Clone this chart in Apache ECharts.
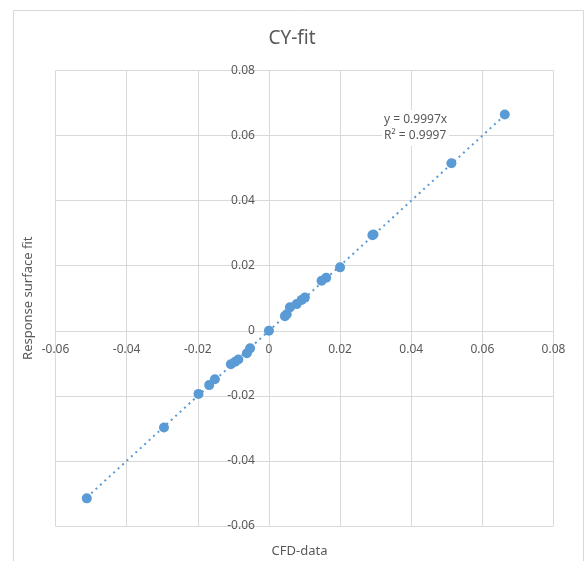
<!DOCTYPE html>
<html>
<head>
<meta charset="utf-8">
<script src="https://cdn.jsdelivr.net/npm/echarts@6/dist/echarts.min.js"></script>
<style>
  html, body { margin: 0; padding: 0; background: #fff; }
  #main { width: 584px; height: 561px; }
</style>
</head>
<body>
<div id="main"></div>
<script>
// CFD values (x) and response surface fit values (y)
var cfdData = [0.0663, 0.0513, 0.0291, 0.0294, 0.0200, 0.0161, 0.0148, 0.0101, 0.0092, 0.0078,
  0.0059, 0.0050, 0.0045, 0.0000, -0.0053, -0.0062, -0.0086, -0.0095, -0.0107, -0.0152,
  -0.0168, -0.0198, -0.0295, -0.0512];
var fitData = [0.0665, 0.0515, 0.0294, 0.0296, 0.0195, 0.0163, 0.0154, 0.0102, 0.0095, 0.0082,
  0.0072, 0.0051, 0.0045, 0.0000, -0.0054, -0.0069, -0.0088, -0.0095, -0.0103, -0.0149,
  -0.0167, -0.0194, -0.0297, -0.0515];
// trendline through origin
var slope = 0.9997;
var r2 = 0.9997;

var points = cfdData.map(function (x, i) { return [x, fitData[i]]; });
var xMin = Math.min.apply(null, cfdData);
var xMax = Math.max.apply(null, cfdData);
var trend = [[xMin, slope * xMin], [xMax, slope * xMax]];

var txt = '#595959';
var gridCol = '#d9d9d9';
var blue = '#5b9bd5';

// plot box and axis range
var W = 584, H = 561;
var gl = 55.5, gr = 30.5, gt = 70.5, gb = 35;
var axMin = -0.06, axMax = 0.08;
// move the axes onto the zero lines (onZero does not move them here)
var yOff = -(H - gt - gb) * (0 - axMin) / (axMax - axMin);
var xOff = -(W - gl - gr) * (0 - axMin) / (axMax - axMin);

var myChart = echarts.init(document.getElementById('main'));
myChart.setOption({
  animation: false,
  title: {
    text: 'CY-fit',
    left: 'center',
    top: 24,
    textStyle: { color: txt, fontSize: 19, fontWeight: 'normal', fontFamily: 'Noto Sans' }
  },
  graphic: [
    {
      type: 'rect', silent: true, z: -10,
      shape: { x: 13.5, y: 10.5, width: 570, height: 560 },
      style: { fill: 'none', stroke: gridCol, lineWidth: 1 }
    },
    {
      type: 'text', left: 382, top: 110, z: 10,
      style: {
        text: 'y = ' + slope + 'x\nR² = ' + r2, fill: txt, font: '12px "Noto Sans"', lineHeight: 16,
        backgroundColor: '#fff', padding: [2, 2, 2, 2]
      }
    }
  ],
  grid: { left: gl, right: gr, top: gt, bottom: gb, containLabel: false, outerBoundsMode: 'none' },
  xAxis: {
    type: 'value', min: axMin, max: axMax, interval: 0.02,
    position: 'bottom', offset: yOff,
    name: 'CFD-data', nameLocation: 'middle', nameGap: 214,
    nameTextStyle: { color: txt, fontSize: 13, fontFamily: 'Noto Sans', padding: [0, 10, 0, 0] },
    axisLine: { onZero: false, lineStyle: { color: gridCol } },
    axisTick: { show: false },
    axisLabel: { color: txt, fontSize: 12, fontFamily: 'Noto Sans', margin: 13 },
    splitLine: { lineStyle: { color: gridCol } }
  },
  yAxis: {
    type: 'value', min: axMin, max: axMax, interval: 0.02,
    position: 'left', offset: xOff,
    name: 'Response surface fit', nameLocation: 'middle', nameGap: 234,
    nameTextStyle: { color: txt, fontSize: 13, fontFamily: 'Noto Sans' },
    axisLine: { onZero: false, lineStyle: { color: gridCol } },
    axisTick: { show: false },
    axisLabel: { color: txt, fontSize: 12, fontFamily: 'Noto Sans', margin: 14 },
    splitLine: { lineStyle: { color: gridCol } }
  },
  series: [
    {
      type: 'line', data: trend, symbol: 'none', z: 1,
      lineStyle: { color: blue, width: 2, type: [2, 4] }
    },
    {
      type: 'scatter', data: points, symbol: 'circle', symbolSize: 10, z: 2,
      itemStyle: { color: blue, opacity: 1 }
    }
  ]
});
</script>
</body>
</html>
